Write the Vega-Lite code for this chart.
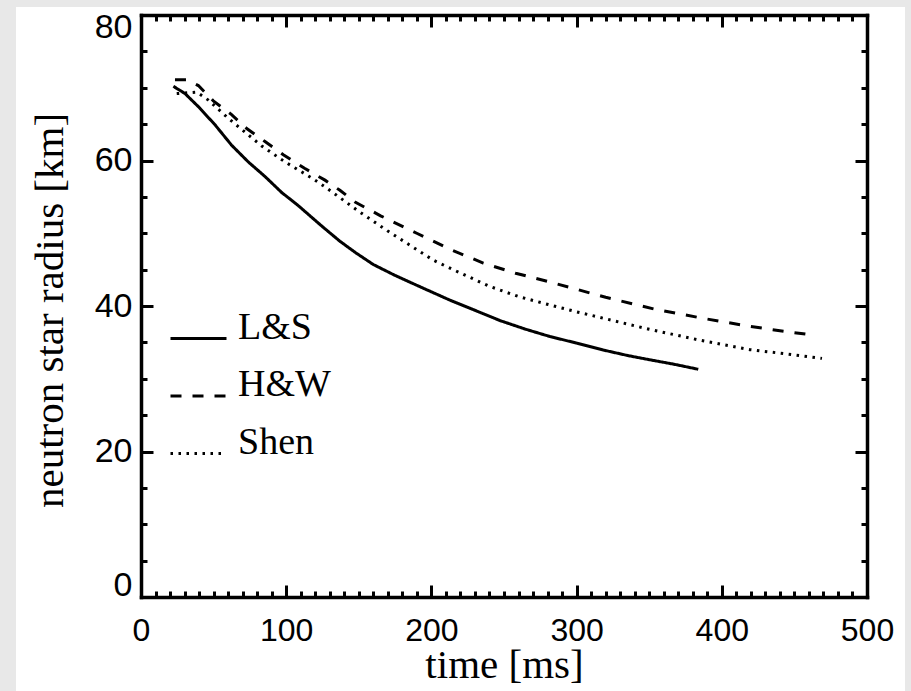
{
  "$schema": "https://vega.github.io/schema/vega-lite/v6.json",
  "width": 726,
  "height": 582,
  "autosize": "none",
  "padding": {"left": 141, "top": 15, "right": 44, "bottom": 94},
  "background": "#e8e8e8",
  "config": {
    "view": {"stroke": null},
    "axis": {
      "zindex": 1,
      "grid": false,
      "labelFont": "Liberation Sans",
      "labelFontSize": 32,
      "labelColor": "black",
      "labelFlush": false,
      "labelOverlap": false,
      "titleFont": "Liberation Serif",
      "titleFontSize": 41,
      "titleFontWeight": "normal",
      "titleColor": "black",
      "domainColor": "black",
      "domainWidth": 3.5,
      "domainCap": "square",
      "tickColor": "black",
      "tickWidth": 3
    }
  },
  "data": {
    "values": [
      {"series": "L&S", "t": 22.3, "r": 70.2},
      {"series": "L&S", "t": 30.3, "r": 69.2},
      {"series": "L&S", "t": 39.5, "r": 67.4},
      {"series": "L&S", "t": 51, "r": 64.9},
      {"series": "L&S", "t": 62.4, "r": 62.1},
      {"series": "L&S", "t": 73.9, "r": 59.8},
      {"series": "L&S", "t": 85.4, "r": 57.8},
      {"series": "L&S", "t": 96.9, "r": 55.6},
      {"series": "L&S", "t": 108.3, "r": 53.8},
      {"series": "L&S", "t": 124.4, "r": 51.0},
      {"series": "L&S", "t": 137, "r": 48.9},
      {"series": "L&S", "t": 148, "r": 47.3},
      {"series": "L&S", "t": 160, "r": 45.7},
      {"series": "L&S", "t": 175, "r": 44.2},
      {"series": "L&S", "t": 192.1, "r": 42.65},
      {"series": "L&S", "t": 212.8, "r": 40.8},
      {"series": "L&S", "t": 228.9, "r": 39.5},
      {"series": "L&S", "t": 247.2, "r": 38.0},
      {"series": "L&S", "t": 265, "r": 36.8},
      {"series": "L&S", "t": 281.7, "r": 35.8},
      {"series": "L&S", "t": 300, "r": 34.9},
      {"series": "L&S", "t": 318.4, "r": 33.95},
      {"series": "L&S", "t": 335, "r": 33.2},
      {"series": "L&S", "t": 350.6, "r": 32.6},
      {"series": "L&S", "t": 367, "r": 32.0},
      {"series": "L&S", "t": 383.8, "r": 31.3},
      {"series": "H&W", "t": 23.4, "r": 71.1},
      {"series": "H&W", "t": 31.5, "r": 71.1},
      {"series": "H&W", "t": 39.5, "r": 70.3},
      {"series": "H&W", "t": 49.8, "r": 68.2},
      {"series": "H&W", "t": 62.4, "r": 66.3},
      {"series": "H&W", "t": 72.8, "r": 64.4},
      {"series": "H&W", "t": 85.4, "r": 62.6},
      {"series": "H&W", "t": 98, "r": 60.8},
      {"series": "H&W", "t": 112.9, "r": 58.9},
      {"series": "H&W", "t": 126.7, "r": 57.3},
      {"series": "H&W", "t": 137, "r": 55.9},
      {"series": "H&W", "t": 147.4, "r": 54.3},
      {"series": "H&W", "t": 165, "r": 52.4},
      {"series": "H&W", "t": 189.9, "r": 50.0},
      {"series": "H&W", "t": 212.8, "r": 47.8},
      {"series": "H&W", "t": 235.7, "r": 45.9},
      {"series": "H&W", "t": 258, "r": 44.5},
      {"series": "H&W", "t": 281.7, "r": 43.3},
      {"series": "H&W", "t": 320, "r": 41.2},
      {"series": "H&W", "t": 355.2, "r": 39.5},
      {"series": "H&W", "t": 390, "r": 38.2},
      {"series": "H&W", "t": 419.4, "r": 37.2},
      {"series": "H&W", "t": 440, "r": 36.6},
      {"series": "H&W", "t": 463, "r": 36.0},
      {"series": "Shen", "t": 24.6, "r": 69.2},
      {"series": "Shen", "t": 38.4, "r": 69.4},
      {"series": "Shen", "t": 46.4, "r": 68.3},
      {"series": "Shen", "t": 60.1, "r": 65.8},
      {"series": "Shen", "t": 83.1, "r": 62.0},
      {"series": "Shen", "t": 99.2, "r": 59.8},
      {"series": "Shen", "t": 117.6, "r": 57.6},
      {"series": "Shen", "t": 128, "r": 56.2},
      {"series": "Shen", "t": 148.6, "r": 53.2},
      {"series": "Shen", "t": 170, "r": 50.3},
      {"series": "Shen", "t": 201.3, "r": 46.3},
      {"series": "Shen", "t": 212.8, "r": 45.2},
      {"series": "Shen", "t": 240, "r": 42.7},
      {"series": "Shen", "t": 260, "r": 41.3},
      {"series": "Shen", "t": 280.5, "r": 40.2},
      {"series": "Shen", "t": 300, "r": 39.2},
      {"series": "Shen", "t": 325, "r": 38.0},
      {"series": "Shen", "t": 350, "r": 36.8},
      {"series": "Shen", "t": 385, "r": 35.3},
      {"series": "Shen", "t": 419.4, "r": 34.0},
      {"series": "Shen", "t": 445, "r": 33.4},
      {"series": "Shen", "t": 469, "r": 32.8}
    ]
  },
  "resolve": {"axis": {"x": "independent", "y": "independent"}},
  "layer": [
    {
      "mark": {"type": "rect", "fill": "white", "clip": false, "zindex": 0},
      "encoding": {
        "x": {"datum": -86, "type": "quantitative", "scale": {"domain": [0, 500]}, "axis": null},
        "x2": {"datum": 526.2},
        "y": {"datum": 81.1, "type": "quantitative", "scale": {"domain": [0, 80]}, "axis": null},
        "y2": {"datum": -13}
      }
    },
    {
      "mark": {"type": "line", "stroke": "black", "strokeWidth": 3, "strokeCap": "butt"},
      "encoding": {
        "x": {
          "field": "t", "type": "quantitative",
          "scale": {"domain": [0, 500]},
          "axis": {
            "zindex": 2,
            "orient": "bottom", "title": "time [ms]", "values": [0, 100, 200, 300, 400, 500],
            "ticks": false, "domain": false, "labelPadding": 18,
            "titleBaseline": "alphabetic", "titleY": 80
          }
        },
        "y": {
          "field": "r", "type": "quantitative",
          "scale": {"domain": [0, 80]},
          "axis": {
            "zindex": 2,
            "orient": "left", "title": "neutron star radius [km]", "values": [0, 20, 40, 60, 80],
            "ticks": false, "domain": false, "labelPadding": 9, "labelFontSize": 34,
            "labelFlush": true, "labelFlushOffset": 5,
            "titleBaseline": "alphabetic", "titleAngle": 270, "titleX": -79, "titleY": 295, "titleAlign": "center"
          }
        },
        "strokeDash": {
          "field": "series", "type": "nominal",
          "scale": {"domain": ["L&S", "H&W", "Shen"], "range": [[1, 0], [11, 11], [2.5, 5.5]]},
          "legend": {
            "zindex": 2,
            "orient": "none", "legendX": 28, "legendY": 294, "title": null,
            "symbolType": "stroke", "symbolSize": 3136, "symbolStrokeWidth": 3,
            "symbolStrokeColor": "black", "labelFont": "Liberation Serif", "labelFontSize": 38,
            "labelColor": "black", "labelOffset": 10, "rowPadding": 18.5, "padding": 0,
            "labelBaseline": "alphabetic"
          }
        }
      }
    },
    {
      "mark": {"type": "point", "opacity": 0},
      "encoding": {
        "x": {"field": "t", "type": "quantitative", "axis": {"zindex": 2, "orient": "bottom", "values": [0, 100, 200, 300, 400, 500], "labels": false, "title": null, "tickSize": -12, "domain": true}},
        "y": {"field": "r", "type": "quantitative", "axis": {"zindex": 2, "orient": "left", "values": [0, 20, 40, 60, 80], "labels": false, "title": null, "tickSize": -12, "domain": true}}
      }
    },
    {
      "mark": {"type": "point", "opacity": 0},
      "encoding": {
        "x": {"field": "t", "type": "quantitative", "axis": {"zindex": 2, "orient": "bottom", "values": [10, 20, 30, 40, 50, 60, 70, 80, 90, 110, 120, 130, 140, 150, 160, 170, 180, 190, 210, 220, 230, 240, 250, 260, 270, 280, 290, 310, 320, 330, 340, 350, 360, 370, 380, 390, 410, 420, 430, 440, 450, 460, 470, 480, 490], "labels": false, "title": null, "tickSize": -6, "domain": false}},
        "y": {"field": "r", "type": "quantitative", "axis": {"zindex": 2, "orient": "left", "values": [5, 10, 15, 25, 30, 35, 45, 50, 55, 65, 70, 75], "labels": false, "title": null, "tickSize": -6, "domain": false}}
      }
    },
    {
      "mark": {"type": "point", "opacity": 0},
      "encoding": {
        "x": {"field": "t", "type": "quantitative", "axis": {"zindex": 2, "orient": "top", "values": [0, 100, 200, 300, 400, 500], "labels": false, "title": null, "tickSize": -12, "domain": true}},
        "y": {"field": "r", "type": "quantitative", "axis": {"zindex": 2, "orient": "right", "values": [0, 20, 40, 60, 80], "labels": false, "title": null, "tickSize": -12, "domain": true}}
      }
    },
    {
      "mark": {"type": "point", "opacity": 0},
      "encoding": {
        "x": {"field": "t", "type": "quantitative", "axis": {"zindex": 2, "orient": "top", "values": [10, 20, 30, 40, 50, 60, 70, 80, 90, 110, 120, 130, 140, 150, 160, 170, 180, 190, 210, 220, 230, 240, 250, 260, 270, 280, 290, 310, 320, 330, 340, 350, 360, 370, 380, 390, 410, 420, 430, 440, 450, 460, 470, 480, 490], "labels": false, "title": null, "tickSize": -6, "domain": false}},
        "y": {"field": "r", "type": "quantitative", "axis": {"zindex": 2, "orient": "right", "values": [5, 10, 15, 25, 30, 35, 45, 50, 55, 65, 70, 75], "labels": false, "title": null, "tickSize": -6, "domain": false}}
      }
    }
  ]
}
